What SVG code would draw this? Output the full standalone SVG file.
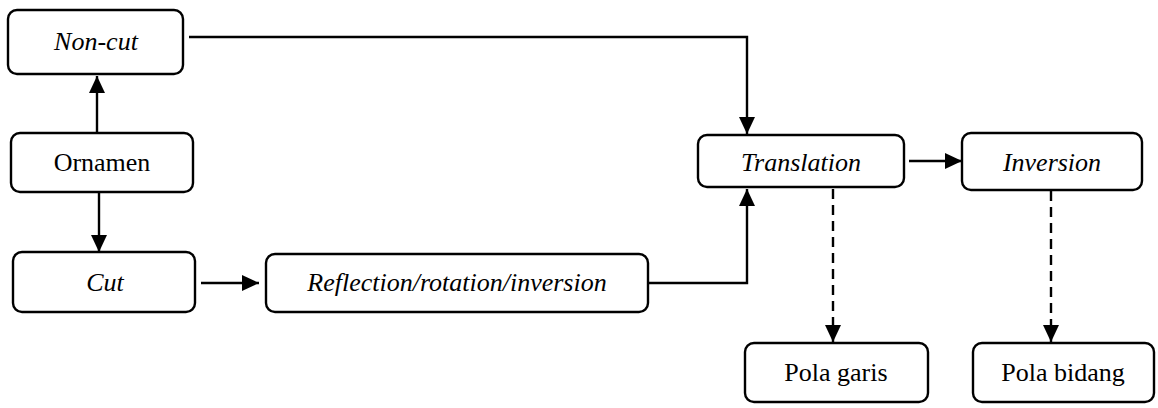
<svg xmlns="http://www.w3.org/2000/svg" width="1158" height="408" viewBox="0 0 1158 408">
<defs>
<style>
.box{fill:#fff;stroke:#000;stroke-width:2.4}
.t{font-size:26px;fill:#000;text-anchor:middle}
.i{font-style:italic}
.c{fill:none;stroke:#000;stroke-width:2.4}
.d{stroke-dasharray:10 6}
</style>
<marker id="ah" markerUnits="userSpaceOnUse" markerWidth="18" markerHeight="16" refX="17" refY="8" orient="auto">
<path d="M0,0 L17,8 L0,16 Z" fill="#000"/>
</marker>
</defs>
<rect width="1158" height="408" fill="#fff"/>
<g id="connectors">
<path class="c" d="M97,133 V76" marker-end="url(#ah)"/>
<path class="c" d="M99,193 V252" marker-end="url(#ah)"/>
<path class="c" d="M201,283 H259" marker-end="url(#ah)"/>
<path class="c" d="M648,283 H747 V189" marker-end="url(#ah)"/>
<path class="c" d="M189,37 H747 V134" marker-end="url(#ah)"/>
<path class="c" d="M909,161 H962" marker-end="url(#ah)"/>
<path class="c d" d="M833,189 V342" marker-end="url(#ah)"/>
<path class="c d" d="M1051,191 V342" marker-end="url(#ah)"/>
</g>
<g font-family="Liberation Serif, Times New Roman, DejaVu Serif, serif">
<g id="noncut">
<rect class="box" x="8" y="10" width="175" height="64" rx="9"/>
<text class="t i" x="96" y="50">Non-cut</text>
</g>
<g id="ornamen">
<rect class="box" x="11" y="133" width="182" height="59" rx="9"/>
<text class="t" x="102" y="171">Ornamen</text>
</g>
<g id="cut">
<rect class="box" x="13" y="252" width="182" height="60" rx="9"/>
<text class="t i" x="105" y="291">Cut</text>
</g>
<g id="reflection">
<rect class="box" x="266" y="254" width="382" height="58" rx="9"/>
<text class="t i" x="457" y="291">Reflection/rotation/inversion</text>
</g>
<g id="translation">
<rect class="box" x="698" y="135" width="206" height="52" rx="9"/>
<text class="t i" x="801" y="171">Translation</text>
</g>
<g id="inversion">
<rect class="box" x="962" y="133" width="180" height="57" rx="9"/>
<text class="t i" x="1052" y="171">Inversion</text>
</g>
<g id="polagaris">
<rect class="box" x="745" y="343" width="183" height="59" rx="9"/>
<text class="t" x="836" y="381">Pola garis</text>
</g>
<g id="polabidang">
<rect class="box" x="973" y="343" width="181" height="59" rx="9"/>
<text class="t" x="1063" y="381">Pola bidang</text>
</g>
</g>
</svg>
